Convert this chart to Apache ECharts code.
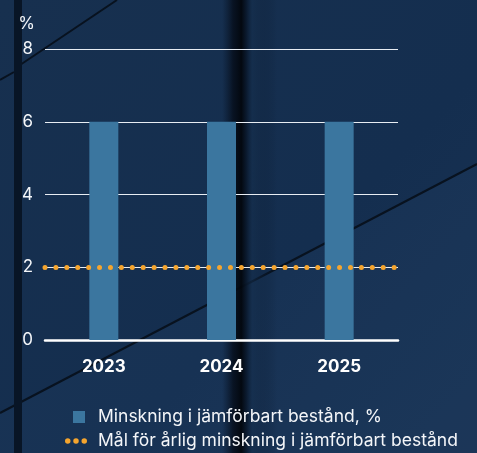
<!DOCTYPE html>
<html><head><meta charset="utf-8">
<script src="https://cdn.jsdelivr.net/npm/echarts@6/dist/echarts.min.js"></script>
<style>html,body{margin:0;padding:0;background:#15304f}#c{width:477px;height:453px}</style>
</head><body><div id="c"></div>
<script>
const categories = ['2023', '2024', '2025'];
const reductionValues = [6, 6, 6];
const targetValue = 2;
const yTicks = [0, 2, 4, 6, 8];
const seriesNames = ['Minskning i jämförbart bestånd, %', 'Mål för årlig minskning i jämförbart bestånd'];

const chart = echarts.init(document.getElementById('c'), null, {renderer: 'canvas'});
const font = 'Inter, "Noto Sans", sans-serif';
const dotsIcon = 'path://M3,3m-3,0a3,3 0 1,0 6,0a3,3 0 1,0 -6,0M12,3m-3,0a3,3 0 1,0 6,0a3,3 0 1,0 -6,0M21,3m-3,0a3,3 0 1,0 6,0a3,3 0 1,0 -6,0';

chart.setOption({
  backgroundColor: {
    type: 'linear', x: 0, y: 0, x2: 1, y2: 1,
    colorStops: [{offset: 0, color: '#17304f'}, {offset: 0.6, color: '#142e4f'}, {offset: 1, color: '#1a3354'}]
  },
  graphic: [
    {type: 'polygon', silent: true, z: -11, shape: {points: [[0, 413], [477, 164], [477, 453], [0, 453]]}, style: {fill: 'rgba(40,70,110,0.18)'}},
    {type: 'line', silent: true, z: -10, shape: {x1: 0, y1: 413, x2: 477, y2: 164}, style: {stroke: '#08121f', lineWidth: 2}},
    {type: 'line', silent: true, z: -10, shape: {x1: 20, y1: 65, x2: 117, y2: 0}, style: {stroke: '#08121f', lineWidth: 2}},
    {type: 'line', silent: true, z: -10, shape: {x1: 0, y1: 80, x2: 14, y2: 72}, style: {stroke: '#08121f', lineWidth: 2}},
    {type: 'rect', silent: true, z: -9, shape: {x: 14, y: 0, width: 8, height: 453}, style: {fill: '#081526'}},
    {type: 'rect', silent: true, z: -9, shape: {x: 222, y: 0, width: 55, height: 453},
      style: {fill: {type: 'linear', x: 0, y: 0, x2: 1, y2: 0, colorStops: [
        {offset: 0, color: 'rgba(8,20,38,0)'}, {offset: 0.2, color: 'rgba(5,12,24,0.8)'},
        {offset: 0.35, color: 'rgba(2,6,12,0.95)'}, {offset: 0.45, color: 'rgba(10,25,45,0.9)'},
        {offset: 0.55, color: 'rgba(20,45,75,0.6)'}, {offset: 1, color: 'rgba(8,20,38,0)'}]}}}
  ],
  grid: {left: 45, right: 79, top: 49, bottom: 113},
  legend: [
    {
      orient: 'vertical', left: 68, top: 403, itemWidth: 12, itemHeight: 12,
      textStyle: {color: '#f4f6f9', fontSize: 17.5, fontFamily: font, padding: [0, 0, 0, 8]},
      data: [{name: seriesNames[0], icon: 'rect'}], selectedMode: false
    },
    {
      orient: 'vertical', left: 60, top: 427, itemWidth: 22, itemHeight: 6,
      textStyle: {color: '#f4f6f9', fontSize: 17.5, fontFamily: font, padding: [0, 0, 0, 6]},
      data: [{name: seriesNames[1], icon: dotsIcon, itemStyle: {color: '#f5a52e'}}], selectedMode: false
    }
  ],
  xAxis: {
    type: 'category', data: categories,
    axisLine: {lineStyle: {color: '#ffffff', width: 2.5}},
    axisTick: {show: false},
    axisLabel: {color: '#ffffff', fontSize: 17, fontWeight: 'bold', fontFamily: font, margin: 18}
  },
  yAxis: {
    type: 'value', min: yTicks[0], max: yTicks[yTicks.length - 1], interval: 2,
    name: '%', nameGap: 17, nameLocation: 'end',
    nameTextStyle: {color: '#f4f6f9', fontSize: 17, fontFamily: font, align: 'center', padding: [0, 0, 0, -37]},
    axisLine: {show: false}, axisTick: {show: false},
    axisLabel: {color: '#f4f6f9', fontSize: 17, fontFamily: font, margin: 12},
    splitLine: {lineStyle: {color: '#e8edf3', width: 1}}
  },
  series: [
    {
      name: seriesNames[0], type: 'bar', data: reductionValues, barWidth: 29,
      itemStyle: {color: '#3b769f'}, z: 2
    },
    {
      name: seriesNames[1], type: 'line', data: [], itemStyle: {color: '#f5a52e'}, z: 3,
      markLine: {
        silent: true, symbol: ['none', 'none'], label: {show: false},
        lineStyle: {color: '#f5a52e', width: 5, type: [0.01, 10.9], cap: 'round'},
        data: [{yAxis: targetValue}]
      }
    }
  ]
});
</script></body></html>
